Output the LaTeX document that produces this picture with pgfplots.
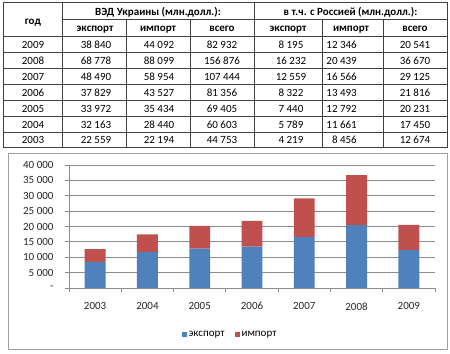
\documentclass[border=0pt]{standalone}
\usepackage{pgfplots}
\pgfplotsset{compat=1.18}
\usepackage{fontspec}
\setmainfont{Carlito}
\definecolor{bblue}{HTML}{4F81BD}
\definecolor{bred}{HTML}{C0504D}
\definecolor{tline}{HTML}{404040}
\definecolor{gline}{HTML}{8C8C8C}
\definecolor{frame}{HTML}{A0A0A0}
\newcommand{\tf}{\fontsize{11bp}{13bp}\selectfont}
\begin{document}
\begin{tikzpicture}
\begin{scope}[x=1bp,y=-1bp,shift={(0bp,354bp)},
  every node/.style={font=\tf, inner sep=0pt, anchor=base},
  tl/.style={draw=tline, line width=1bp}]
  % table grid
  \draw[tl] (3,3) rectangle (447,148);
  \draw[tl] (62,3) -- (62,148);
  \draw[tl] (254,3) -- (254,148);
  \draw[tl] (62,20) -- (447,20);
  \foreach \x in {126,190,322,383} \draw[tl] (\x,20) -- (\x,148);
  \foreach \y in {37,53,69,85,101,117,133} \draw[tl] (3,\y) -- (447,\y);
  % headers
  \node[font=\tf\bfseries] at (33,24.5) {год};
  \node[font=\tf\bfseries] at (158,15.5) {ВЭД Украины (млн.долл.):};
  \node[font=\tf\bfseries] at (350.5,15.5) {в т.ч. с Россией (млн.долл.):};
  \node[font=\tf\bfseries] at (95,32) {экспорт};
  \node[font=\tf\bfseries] at (158,32) {импорт};
  \node[font=\tf\bfseries] at (222,32) {всего};
  \node[font=\tf\bfseries] at (288,32) {экспорт};
  \node[font=\tf\bfseries] at (351,32) {импорт};
  \node[font=\tf\bfseries] at (415,32) {всего};
  % data
  \foreach \yy/\yr/\a/\b/\c/\d/\e/\f in {
    45/2009/38~840/44~092/82~932/8~195/12~346/20~541,
    61/2008/68~778/88~099/156~876/16~232/20~439/36~670,
    77/2007/48~490/58~954/107~444/12~559/16~566/29~125,
    93/2006/37~829/43~527/81~356/8~322/13~493/21~816,
    109/2005/33~972/35~434/69~405/7~440/12~792/20~231,
    125/2004/32~163/28~440/60~603/5~789/11~661/17~450,
    140.5/2003/22~559/22~194/44~753/4~219/8~456/12~674}{
    \node at (33,\yy+3.5) {\yr};
    \node at (96,\yy+3.5) {\a};
    \node at (159,\yy+3.5) {\b};
    \node at (222,\yy+3.5) {\c};
    \node at (291,\yy+3.5) {\d};
    \node[anchor=base east] at (357,\yy+3.5) {\e};
    \node at (415,\yy+3.5) {\f};
  }
\end{scope}
\begin{axis}[
  at={(69bp,66bp)}, anchor=south west,
  scale only axis, width=366bp, height=123bp,
  xmin=-0.5, xmax=6.5, ymin=0, ymax=40000,
  scaled y ticks=false,
  ybar stacked, bar width=0.4,
  xtick={0,...,6}, xticklabels={2003,2004,2005,2006,2007,2008,2009},
  minor xtick={-0.5,0.5,...,6.5},
  ytick={0,5000,...,40000},
  yticklabels={{-\hspace{5.5bp}},{5~000},{10~000},{15~000},{20~000},{25~000},{30~000},{35~000},{40~000}},
  axis x line*=bottom, axis y line*=left,
  axis line style={gline,-},
  ymajorgrids, grid style={gline, line width=0.8bp},
  tick align=outside, major tick length=4bp, minor tick length=4bp,
  major x tick style={draw=none},
  minor x tick style={gline, line width=0.8bp},
  ytick style={gline, line width=0.8bp},
  tick label style={font=\tf, color=black!85},
  yticklabel style={xshift=-8bp},
  xticklabel style={yshift=-7bp},
  legend style={at={(0.44,-0.375)}, anchor=center, draw=none, fill=none,
    legend columns=2, font=\tf,
    /tikz/every even column/.append style={column sep=8bp}},
]
\addplot[fill=bblue, draw=none,
  legend image code/.code={\fill[bblue] (0bp,-2.5bp) rectangle (5bp,2.5bp);}]
  coordinates {(0,8456) (1,11661) (2,12792) (3,13493) (4,16566) (5,20439) (6,12346)};
\addplot[fill=bred, draw=none,
  legend image code/.code={\fill[bred] (0bp,-2.5bp) rectangle (5bp,2.5bp);}]
  coordinates {(0,4219) (1,5789) (2,7440) (3,8322) (4,12559) (5,16232) (6,8195)};
\legend{экспорт, импорт}
\end{axis}
\draw[frame, line width=0.8bp] (8bp,5bp) rectangle (447bp,201bp);
\pgfresetboundingbox
\path (0,0) rectangle (450bp,354bp);
\end{tikzpicture}
\end{document}
